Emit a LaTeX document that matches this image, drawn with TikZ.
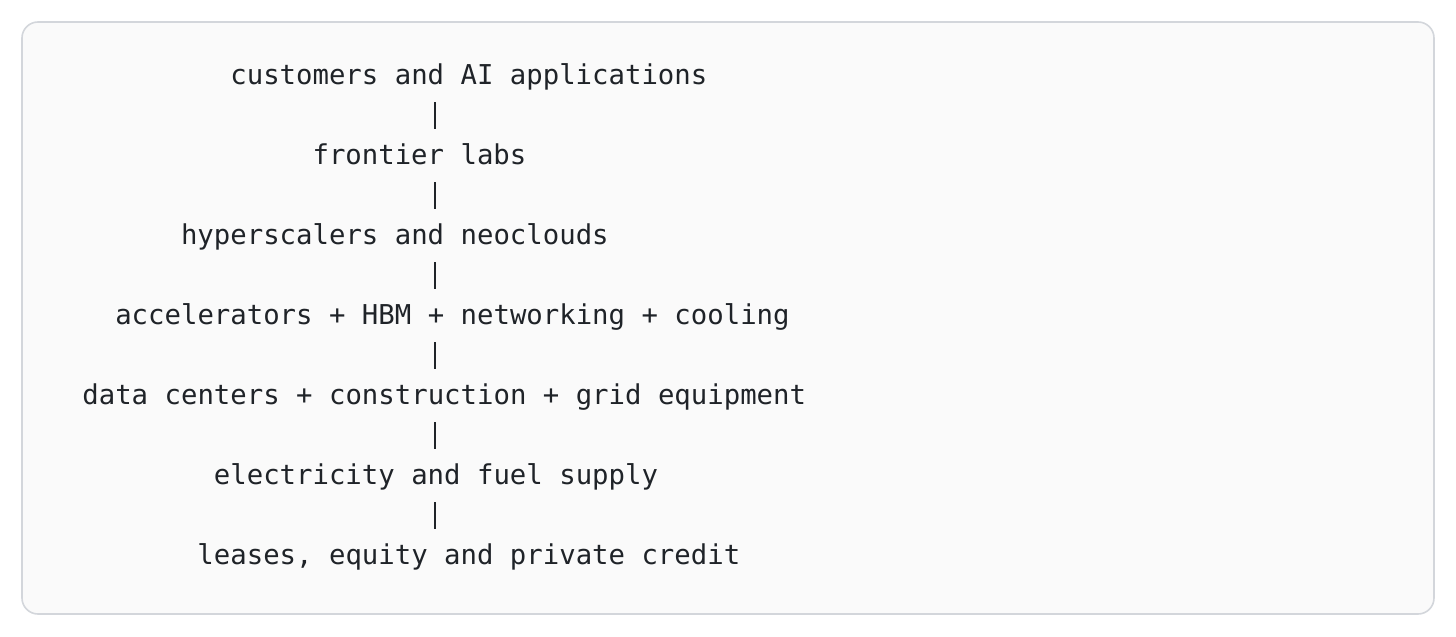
\documentclass[tikz,border=0pt]{standalone}
\usepackage{fontspec}
\setmonofont{DejaVu Sans Mono}
\usepackage{xcolor}
\definecolor{boxfill}{HTML}{FAFAFA}
\definecolor{boxline}{HTML}{D3D6DB}
\definecolor{ink}{HTML}{1F2328}
\usetikzlibrary{positioning}

\begin{document}
\begin{tikzpicture}[x=1pt, y=1pt]
    \tikzset{%
      layer/.style={anchor=base west, inner sep=0pt, text=ink,
        text height=17.5pt, text depth=9pt,
        font=\ttfamily\fontsize{13.66pt}{16pt}\selectfont},
      bar/.style={draw=ink, line width=1pt}
      }
     \useasboundingbox (0,0) rectangle (728,-318.5);
     \draw [fill=boxfill, draw=boxline, line width=0.8pt, rounded corners=8pt] (11,-11) rectangle (717,-307);

     \node [layer] (cust)  at (41+9*8.22, -42)  {customers and AI applications};
     \node [layer] (labs)  at (41+14*8.22, -82) {frontier labs};
     \node [layer] (hyper) at (41+6*8.22, -122) {hyperscalers and neoclouds};
     \node [layer] (accel) at (41+2*8.22, -162) {accelerators + HBM + networking + cooling};
     \node [layer] (dc)    at (41, -202)        {data centers + construction + grid equipment};
     \node [layer] (power) at (41+8*8.22, -242) {electricity and fuel supply};
     \node [layer] (fin)   at (41+7*8.22, -282) {leases, equity and private credit};

     \coordinate (spine) at (41+21.5*8.22, 0);
     \draw [bar] (cust.south -| spine) -- (labs.north -| spine);
     \draw [bar] (labs.south -| spine) -- (hyper.north -| spine);
     \draw [bar] (hyper.south -| spine) -- (accel.north -| spine);
     \draw [bar] (accel.south -| spine) -- (dc.north -| spine);
     \draw [bar] (dc.south -| spine) -- (power.north -| spine);
     \draw [bar] (power.south -| spine) -- (fin.north -| spine);
\end{tikzpicture}
\end{document}
